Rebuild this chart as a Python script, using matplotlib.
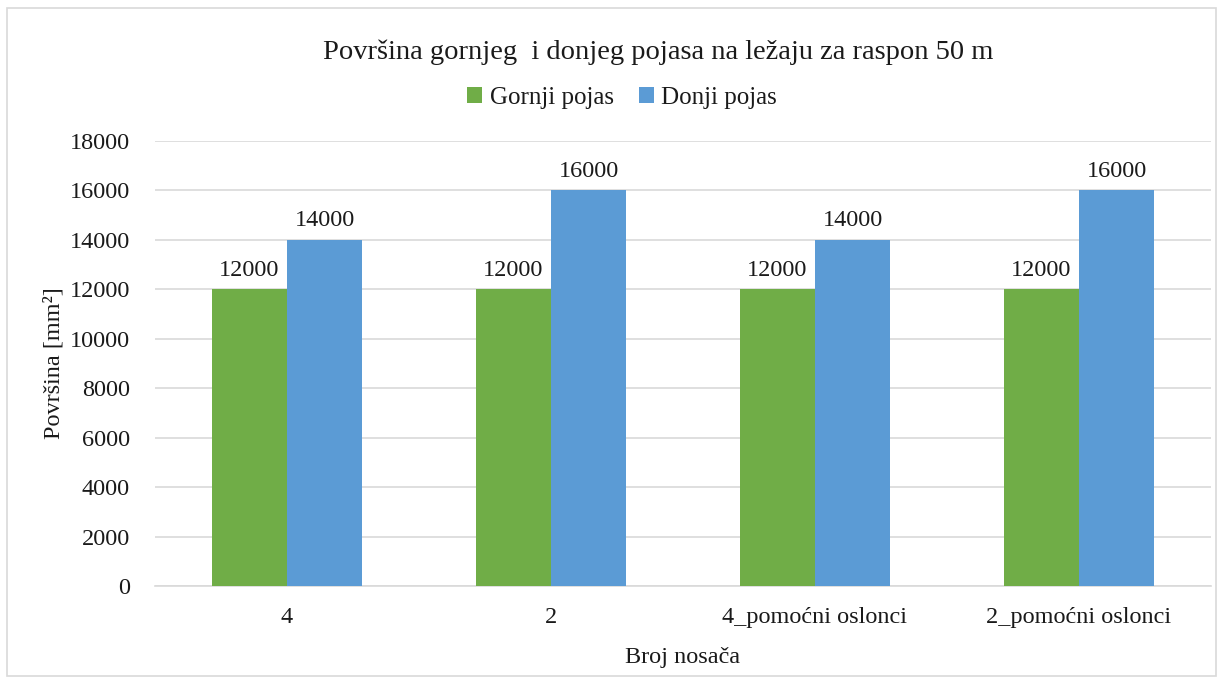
import matplotlib.pyplot as plt
import numpy as np
from matplotlib.patches import Rectangle

categories = ['4', '2', '4_pomoćni oslonci', '2_pomoćni oslonci']
gornji = [12000, 12000, 12000, 12000]
donji = [14000, 16000, 14000, 16000]

plt.rcParams['font.family'] = ['Liberation Serif', 'DejaVu Serif']

fig = plt.figure(figsize=(12.23, 6.83), dpi=100)
# outer chart border
fig.patches.append(Rectangle((7 / 1223, 7 / 683), 1209 / 1223, 668 / 683, transform=fig.transFigure,
                             fill=False, edgecolor='#d9d9d9', linewidth=1.2))

ax = fig.add_axes([155 / 1223, 1 - 586 / 683, 1056 / 1223, 445 / 683])
x = np.arange(len(categories))
w = 0.284
b1 = ax.bar(x - w / 2, gornji, w, color='#70ad47', label='Gornji pojas', zorder=3)
b2 = ax.bar(x + w / 2, donji, w, color='#5b9bd5', label='Donji pojas', zorder=3)
for bars in (b1, b2):
    for r in bars:
        ax.text(r.get_x() + r.get_width() / 2, r.get_height() + 350, f'{int(r.get_height())}',
                ha='center', va='bottom', fontsize=17.5, color='#1a1a1a')

ax.set_xlim(-0.5, len(categories) - 0.5)
ax.set_ylim(0, 18000)
ax.set_yticks(np.arange(0, 18001, 2000))
ax.set_xticks(x)
ax.set_xticklabels(categories)
ax.tick_params(axis='both', length=0, labelsize=17.5, colors='#1a1a1a')
ax.tick_params(axis='y', pad=18)
ax.tick_params(axis='x', pad=15)
ax.grid(axis='y', color='#d9d9d9', linewidth=1.2, zorder=0)
for s in ['top', 'right', 'left']:
    ax.spines[s].set_visible(False)
ax.spines['bottom'].set_color('#d9d9d9')
ax.spines['bottom'].set_linewidth(1.2)

ax.set_xlabel('Broj nosača', fontsize=17.5, color='#1a1a1a', labelpad=14)
ax.set_ylabel('Površina [mm²]', fontsize=17.5, color='#1a1a1a', labelpad=4)

fig.text(0.5 * (313 + 1003) / 1223, 1 - 52 / 683, 'Površina gornjeg  i donjeg pojasa na ležaju za raspon 50 m',
         ha='center', va='center', fontsize=20.5, color='#1a1a1a')
fig.legend(loc='center', bbox_to_anchor=(622 / 1223, 1 - 98 / 683), ncol=2, frameon=False,
           fontsize=18, handlelength=0.6, handleheight=0.6, handletextpad=0.3, columnspacing=1.0,
           labelcolor='#1a1a1a')

fig.savefig('out.png', dpi=100)
